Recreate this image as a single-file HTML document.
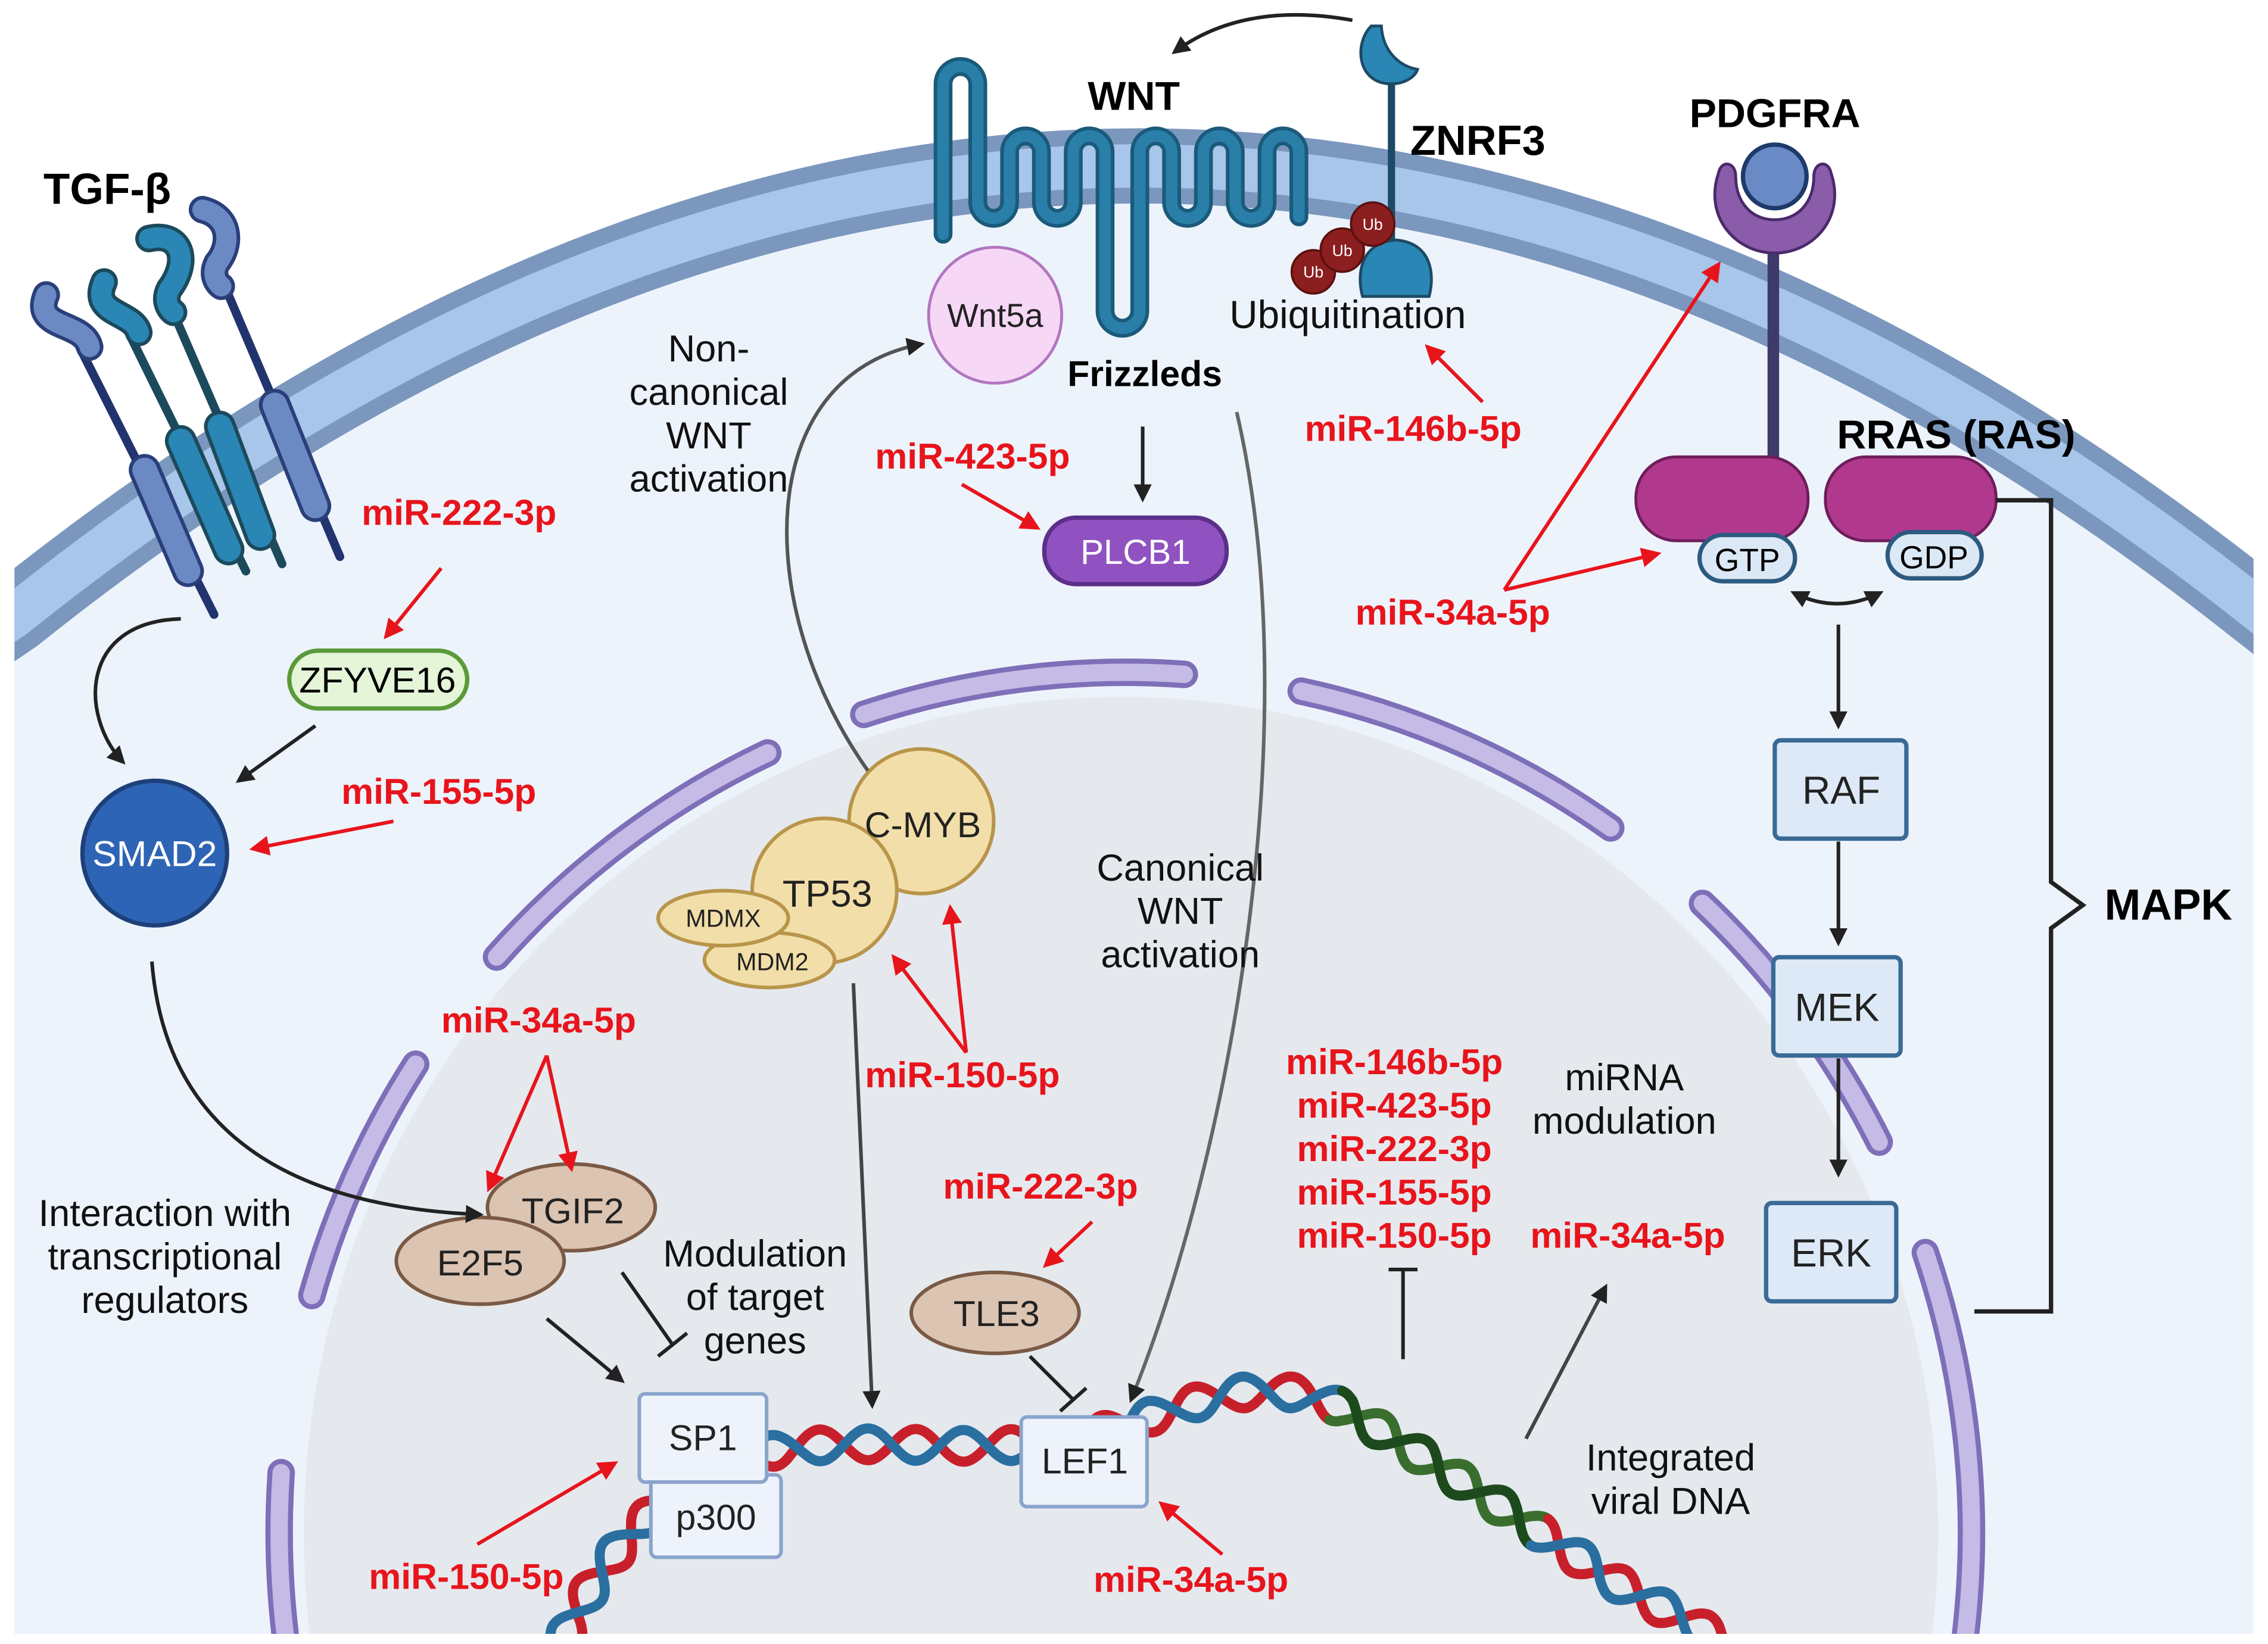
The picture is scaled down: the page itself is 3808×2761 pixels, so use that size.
<!DOCTYPE html>
<html><head><meta charset="utf-8"><style>
html,body{margin:0;padding:0;background:#fff;width:3808px;height:2761px;overflow:hidden;}
svg{display:block;}
text{font-family:"Liberation Sans",Arial,sans-serif;}
.b{font-weight:bold;}
.r{fill:#e8141c;font-weight:bold;font-size:25px;}
.t{font-size:26px;fill:#111;}
</style></head><body>
<svg id="s" width="3808" height="2761" viewBox="0 0 1568 1137" preserveAspectRatio="none" xmlns="http://www.w3.org/2000/svg">
<defs>
<marker id="ak" viewBox="0 0 10 10" refX="8" refY="5" markerWidth="5" markerHeight="5" orient="auto-start-reverse"><path d="M0,0 L10,5 L0,10 Z" fill="#222"/></marker>
<marker id="ar" viewBox="0 0 10 10" refX="8" refY="5" markerWidth="5.5" markerHeight="5.5" orient="auto"><path d="M0,0 L10,5 L0,10 Z" fill="#e8141c"/></marker>
<clipPath id="cl"><rect x="10" y="0" width="1548" height="1130"/></clipPath>
</defs>
<rect width="1568" height="1137" fill="#fff"/>
<g clip-path="url(#cl)">
<path d="M10,1140 V400 Q785,-220 1560,395 V1140 Z" fill="#edf3fb"/>
<path d="M-40,460 L10,426 Q785,-194 1560,421 L1610,460" fill="none" stroke="#7b97bd" stroke-width="52"/>
<path d="M-40,460 L10,426 Q785,-194 1560,421 L1610,460" fill="none" stroke="#a8c5ea" stroke-width="30"/>
<ellipse cx="775" cy="1060" rx="565" ry="578" fill="#e5e9ee"/>
<g fill="none" stroke-linecap="round" transform="translate(8,0)">
<g stroke="#7e6fb8" stroke-width="19">
<path d="M189.4,1132.5 A585 595 0 0 1 186.4,1018.5"/>
<path d="M207.6,896 A585 595 0 0 1 279.4,736"/>
<path d="M335.3,661.9 A585 595 0 0 1 522.8,520.7"/>
<path d="M589.2,494.1 A585 595 0 0 1 810.8,466.4"/>
<path d="M891.6,478 A585 595 0 0 1 1105.6,572.6"/>
<path d="M1169,624.8 A585 595 0 0 1 1291.2,789.9"/>
<path d="M1323.1,866.3 A585 595 0 0 1 1349.3,1142.8"/>
</g>
<g stroke="#c4bbe6" stroke-width="12">
<path d="M189.4,1132.5 A585 595 0 0 1 186.4,1018.5"/>
<path d="M207.6,896 A585 595 0 0 1 279.4,736"/>
<path d="M335.3,661.9 A585 595 0 0 1 522.8,520.7"/>
<path d="M589.2,494.1 A585 595 0 0 1 810.8,466.4"/>
<path d="M891.6,478 A585 595 0 0 1 1105.6,572.6"/>
<path d="M1169,624.8 A585 595 0 0 1 1291.2,789.9"/>
<path d="M1323.1,866.3 A585 595 0 0 1 1349.3,1142.8"/>
</g>
</g>
<path id="dnac" d="M385,1145 C420,1060 480,1005 560,1000 C650,995 700,1010 780,985 C840,965 880,950 930,975 C990,1010 1050,1050 1110,1090 C1150,1115 1180,1125 1205,1145" fill="none" stroke="none"/>
<g id="dna"></g>
</g>

<!-- TGF-beta receptors -->
<g stroke-linecap="round" fill="none">
<line x1="55" y1="240" x2="148" y2="425" stroke="#22346e" stroke-width="6"/>
<line x1="85" y1="222" x2="170" y2="395" stroke="#1c4a5c" stroke-width="6"/>
<line x1="115" y1="205" x2="195" y2="390" stroke="#1c4a5c" stroke-width="6"/>
<line x1="152" y1="190" x2="235" y2="385" stroke="#22346e" stroke-width="6"/>
<line x1="100" y1="325" x2="130" y2="395" stroke="#2a3f7a" stroke-width="22"/><line x1="100" y1="325" x2="130" y2="395" stroke="#6b8ac4" stroke-width="17"/>
<line x1="125" y1="305" x2="158" y2="380" stroke="#1c4a5c" stroke-width="22"/><line x1="125" y1="305" x2="158" y2="380" stroke="#2a86b4" stroke-width="17"/>
<line x1="152" y1="295" x2="180" y2="370" stroke="#1c4a5c" stroke-width="22"/><line x1="152" y1="295" x2="180" y2="370" stroke="#2a86b4" stroke-width="17"/>
<line x1="190" y1="280" x2="218" y2="350" stroke="#2a3f7a" stroke-width="22"/><line x1="190" y1="280" x2="218" y2="350" stroke="#6b8ac4" stroke-width="17"/>
<path d="M32,204 C22,228 58,222 62,240" stroke="#2a3f7a" stroke-width="19"/><path d="M32,204 C22,228 58,222 62,240" stroke="#6b8ac4" stroke-width="14"/>
<path d="M72,195 C62,218 92,215 96,230" stroke="#1c4a5c" stroke-width="19"/><path d="M72,195 C62,218 92,215 96,230" stroke="#2a86b4" stroke-width="14"/>
<path d="M103,165 C125,160 132,180 117,200 C113,208 117,214 120,216" stroke="#1c4a5c" stroke-width="19"/><path d="M103,165 C125,160 132,180 117,200 C113,208 117,214 120,216" stroke="#2a86b4" stroke-width="14"/>
<path d="M140,145 C160,150 160,170 150,182 C146,190 150,196 153,198" stroke="#2a3f7a" stroke-width="19"/><path d="M140,145 C160,150 160,170 150,182 C146,190 150,196 153,198" stroke="#6b8ac4" stroke-width="14"/>
</g>
<text x="30" y="141" class="b" font-size="30">TGF-β</text>

<!-- Frizzled -->
<g fill="none" stroke-linecap="round" stroke-linejoin="round">
<path d="M652,162 V58 A12 12 0 0 1 676,58 V140 A11 11 0 0 0 698,140 V105 A11 11 0 0 1 720,105 V140 A11 11 0 0 0 742,140 V105 A11 11 0 0 1 764,105 V215 A12 12 0 0 0 788,215 V105 A11 11 0 0 1 810,105 V140 A11 11 0 0 0 832,140 V105 A11 11 0 0 1 854,105 V140 A11 11 0 0 0 876,140 V105 A11 11 0 0 1 898,105 V150" stroke="#1a5a7a" stroke-width="13"/>
<path d="M652,162 V58 A12 12 0 0 1 676,58 V140 A11 11 0 0 0 698,140 V105 A11 11 0 0 1 720,105 V140 A11 11 0 0 0 742,140 V105 A11 11 0 0 1 764,105 V215 A12 12 0 0 0 788,215 V105 A11 11 0 0 1 810,105 V140 A11 11 0 0 0 832,140 V105 A11 11 0 0 1 854,105 V140 A11 11 0 0 0 876,140 V105 A11 11 0 0 1 898,105 V150" stroke="#2a7fa8" stroke-width="8"/>
</g>
<text x="752" y="76" class="b" font-size="28">WNT</text>
<ellipse cx="688" cy="218" rx="46" ry="47" fill="#f6d8f6" stroke="#b276c0" stroke-width="2"/>
<text x="688" y="226" font-size="23" text-anchor="middle" fill="#222">Wnt5a</text>
<text x="738" y="267" class="b" font-size="25">Frizzleds</text>

<!-- ZNRF3 -->
<line x1="962" y1="50" x2="962" y2="170" stroke="#1d4a66" stroke-width="5"/>
<path d="M948,18 C936,30 938,58 962,58 C970,58 978,54 980,48 C968,46 956,36 955,18 Z" fill="#2a86b4" stroke="#1d4a66" stroke-width="2"/>
<path d="M942,205 C938,190 940,168 965,166 C990,168 992,190 988,205 Z" fill="#2a86b4" stroke="#1d4a66" stroke-width="2"/>
<g fill="#8b1e1e" stroke="#5a1010" stroke-width="1.5"><circle cx="908" cy="188" r="15"/><circle cx="928" cy="173" r="15"/><circle cx="949" cy="155" r="15"/></g>
<g fill="#fff" font-size="11" text-anchor="middle"><text x="908" y="192">Ub</text><text x="928" y="177">Ub</text><text x="949" y="159">Ub</text></g>
<text x="975" y="107" class="b" font-size="29">ZNRF3</text>
<text x="850" y="227" font-size="27" fill="#111">Ubiquitination</text>

<!-- PDGFRA -->
<line x1="1226" y1="165" x2="1226" y2="318" stroke="#3e3a6a" stroke-width="8"/>
<path d="M1188,120 C1178,150 1200,175 1227,175 C1254,175 1276,150 1266,120 C1264,110 1254,112 1254,122 C1254,140 1243,152 1227,152 C1211,152 1200,140 1200,122 C1200,112 1190,110 1188,120 Z" fill="#8a5caa" stroke="#4a2a6a" stroke-width="2"/>
<circle cx="1227" cy="122" r="22" fill="#6a8ac6" stroke="#1d3a6a" stroke-width="3"/>
<text x="1168" y="88" class="b" font-size="28">PDGFRA</text>
<text x="1270" y="310" class="b" font-size="28">RRAS (RAS)</text>
<rect x="1131" y="316" width="119" height="58" rx="28" fill="#b0398e" stroke="#6e1d5a" stroke-width="2"/>
<rect x="1262" y="316" width="118" height="58" rx="28" fill="#b0398e" stroke="#6e1d5a" stroke-width="2"/>
<rect x="1175" y="370" width="66" height="32" rx="16" fill="#dbe8f5" stroke="#2d5a80" stroke-width="3"/>
<rect x="1305" y="368" width="65" height="32" rx="16" fill="#dbe8f5" stroke="#2d5a80" stroke-width="3"/>
<text x="1208" y="395" font-size="22" text-anchor="middle">GTP</text>
<text x="1337" y="393" font-size="22" text-anchor="middle">GDP</text>

<!-- MAPK -->
<g fill="#dde9f6" stroke="#3a6a96" stroke-width="3">
<rect x="1227" y="512" width="91" height="68" rx="4"/>
<rect x="1226" y="662" width="88" height="68" rx="4"/>
<rect x="1221" y="832" width="90" height="68" rx="4"/>
</g>
<g font-size="27" text-anchor="middle" fill="#222"><text x="1273" y="556">RAF</text><text x="1270" y="706">MEK</text><text x="1266" y="876">ERK</text></g>
<path d="M1380,346 H1418 V610 L1440,626 L1418,642 V907 H1365" fill="none" stroke="#222" stroke-width="3"/>
<text x="1455" y="636" class="b" font-size="30">MAPK</text>

<!-- Nodes -->
<rect x="200" y="450" width="123" height="40" rx="20" fill="#e4f5d8" stroke="#5a9a3a" stroke-width="3"/>
<text x="261" y="479" font-size="25" text-anchor="middle">ZFYVE16</text>
<circle cx="107" cy="590" r="50" fill="#2e64b5" stroke="#1e407a" stroke-width="3"/>
<text x="107" y="599" font-size="25" text-anchor="middle" fill="#fff">SMAD2</text>
<rect x="722" y="358" width="126" height="46" rx="22" fill="#9052c0" stroke="#5c2f8a" stroke-width="3"/>
<text x="785" y="390" font-size="24" text-anchor="middle" fill="#fff">PLCB1</text>

<g fill="#f2dea8" stroke="#b8954a" stroke-width="2.5">
<circle cx="637" cy="568" r="50"/>
<circle cx="570" cy="616" r="50"/>
<ellipse cx="532" cy="664" rx="45" ry="19"/>
<ellipse cx="500" cy="635" rx="45" ry="19"/>
</g>
<g text-anchor="middle" fill="#222">
<text x="638" y="579" font-size="25">C-MYB</text>
<text x="572" y="627" font-size="26">TP53</text>
<text x="500" y="641" font-size="17">MDMX</text>
<text x="534" y="671" font-size="17">MDM2</text>
</g>

<g fill="#dcc4b2" stroke="#7a5a45" stroke-width="2.5">
<ellipse cx="395" cy="835" rx="58" ry="30"/>
<ellipse cx="332" cy="872" rx="58" ry="30"/>
<ellipse cx="688" cy="908" rx="58" ry="28"/>
</g>
<g text-anchor="middle" font-size="25" fill="#222"><text x="396" y="846">TGIF2</text><text x="332" y="882">E2F5</text><text x="689" y="917">TLE3</text></g>

<g fill="#eef3fb" stroke="#8aa4cc" stroke-width="2.5">
<rect x="450" y="1020" width="90" height="57" rx="4"/>
<rect x="442" y="964" width="88" height="61" rx="4"/>
<rect x="706" y="980" width="87" height="62" rx="4"/>
</g>
<g text-anchor="middle" font-size="25" fill="#222"><text x="486" y="1003">SP1</text><text x="495" y="1058">p300</text><text x="750" y="1019">LEF1</text></g>

<!-- black arrows -->
<g fill="none" stroke="#222" stroke-width="2.5">
<path d="M125,428 C55,430 55,495 85,527" marker-end="url(#ak)"/>
<path d="M218,502 L165,540" marker-end="url(#ak)"/>
<path d="M105,665 C115,790 210,835 332,840" marker-end="url(#ak)"/>
<path d="M600,533 C520,420 520,260 637,238" stroke="#555" marker-end="url(#ak)"/>
<path d="M935,14 C880,4 840,15 812,36" marker-end="url(#ak)"/>
<path d="M790,295 L790,345" marker-end="url(#ak)"/>
<path d="M855,285 C905,500 850,800 782,968" stroke="#666" marker-end="url(#ak)"/>
<path d="M590,680 L603,972" stroke="#444" marker-end="url(#ak)"/>
<path d="M378,912 L430,955" marker-end="url(#ak)"/>
<path d="M430,880 L465,930 M455,938 L475,922"/>
<path d="M712,938 L742,968 M733,976 L751,960"/>
<path d="M970,940 L970,878 M960,878 L980,878"/>
<path d="M1055,995 L1110,890" stroke="#444" marker-end="url(#ak)"/>
<path d="M1240,410 Q1270,425 1300,410" marker-start="url(#ak)" marker-end="url(#ak)"/>
<path d="M1271,432 L1271,502" marker-end="url(#ak)"/>
<path d="M1271,582 L1271,652" marker-end="url(#ak)"/>
<path d="M1271,732 L1271,812" marker-end="url(#ak)"/>
</g>
<!-- red arrows -->
<g fill="none" stroke="#e8141c" stroke-width="2.5">
<path d="M305,393 L267,440" marker-end="url(#ar)"/>
<path d="M272,568 L175,587" marker-end="url(#ar)"/>
<path d="M665,335 L717,365" marker-end="url(#ar)"/>
<path d="M1025,278 L987,240" marker-end="url(#ar)"/>
<path d="M1040,408 L1188,183" marker-end="url(#ar)"/>
<path d="M1040,408 L1146,383" marker-end="url(#ar)"/>
<path d="M378,730 L338,822" marker-end="url(#ar)"/>
<path d="M378,730 L395,808" marker-end="url(#ar)"/>
<path d="M668,728 L618,662" marker-end="url(#ar)"/>
<path d="M668,728 L657,628" marker-end="url(#ar)"/>
<path d="M755,845 L723,875" marker-end="url(#ar)"/>
<path d="M330,1068 L425,1012" marker-end="url(#ar)"/>
<path d="M845,1075 L803,1040" marker-end="url(#ar)"/>
</g>

<!-- red labels -->
<text x="250" y="363" class="r">miR-222-3p</text>
<text x="236" y="556" class="r">miR-155-5p</text>
<text x="605" y="324" class="r">miR-423-5p</text>
<text x="902" y="305" class="r">miR-146b-5p</text>
<text x="937" y="432" class="r">miR-34a-5p</text>
<text x="305" y="714" class="r">miR-34a-5p</text>
<text x="598" y="752" class="r">miR-150-5p</text>
<text x="652" y="829" class="r">miR-222-3p</text>
<g text-anchor="middle"><text x="964" y="743" class="r">miR-146b-5p</text><text x="964" y="773" class="r">miR-423-5p</text><text x="964" y="803" class="r">miR-222-3p</text><text x="964" y="833" class="r">miR-155-5p</text><text x="964" y="863" class="r">miR-150-5p</text></g>
<text x="1058" y="863" class="r">miR-34a-5p</text>
<text x="255" y="1099" class="r">miR-150-5p</text>
<text x="756" y="1101" class="r">miR-34a-5p</text>

<!-- black labels -->
<g class="t" text-anchor="middle">
<text x="490" y="250" class="t">Non-</text><text x="490" y="280" class="t">canonical</text><text x="490" y="310" class="t">WNT</text><text x="490" y="340" class="t">activation</text>
<text x="816" y="609" class="t">Canonical</text><text x="816" y="639" class="t">WNT</text><text x="816" y="669" class="t">activation</text>
<text x="1123" y="754" class="t">miRNA</text><text x="1123" y="784" class="t">modulation</text>
<text x="114" y="848" class="t">Interaction with</text><text x="114" y="878" class="t">transcriptional</text><text x="114" y="908" class="t">regulators</text>
<text x="522" y="876" class="t">Modulation</text><text x="522" y="906" class="t">of target</text><text x="522" y="936" class="t">genes</text>
<text x="1155" y="1017" class="t">Integrated</text><text x="1155" y="1047" class="t">viral DNA</text>
</g>
</svg>
<script>
(function(){
var c=document.getElementById('dnac'),g=document.getElementById('dna'),L=c.getTotalLength(),ns='http://www.w3.org/2000/svg';
function col(k,x){if(x>925&&x<1065)return k?'#1d4a1d':'#3a6e2e';return k?'#2a6fa0':'#c8202a';}
for(var k=0;k<2;k++){
 var pts=[],cur=null,step=2;
 for(var s=0;s<=L;s+=step){
  var p=c.getPointAtLength(s),q=c.getPointAtLength(Math.min(L,s+1)),p0=c.getPointAtLength(Math.max(0,s-1));
  var dx=q.x-p0.x,dy=q.y-p0.y,d=Math.hypot(dx,dy)||1,nx=-dy/d,ny=dx/d;
  var o=11*Math.sin(2*Math.PI*s/66+k*Math.PI);
  var x=p.x+nx*o,y=p.y+ny*o,cc=col(k,p.x);
  if(cc!==cur){ if(pts.length>1)draw(pts,cur); pts=pts.length?[pts[pts.length-1]]:[]; cur=cc;}
  pts.push(x.toFixed(1)+','+y.toFixed(1));
 }
 if(pts.length>1)draw(pts,cur);
}
function draw(a,cl){var e=document.createElementNS(ns,'polyline');e.setAttribute('points',a.join(' '));e.setAttribute('fill','none');e.setAttribute('stroke',cl);e.setAttribute('stroke-width','7');e.setAttribute('stroke-linecap','round');g.appendChild(e);}
})();
</script>
</body></html>
